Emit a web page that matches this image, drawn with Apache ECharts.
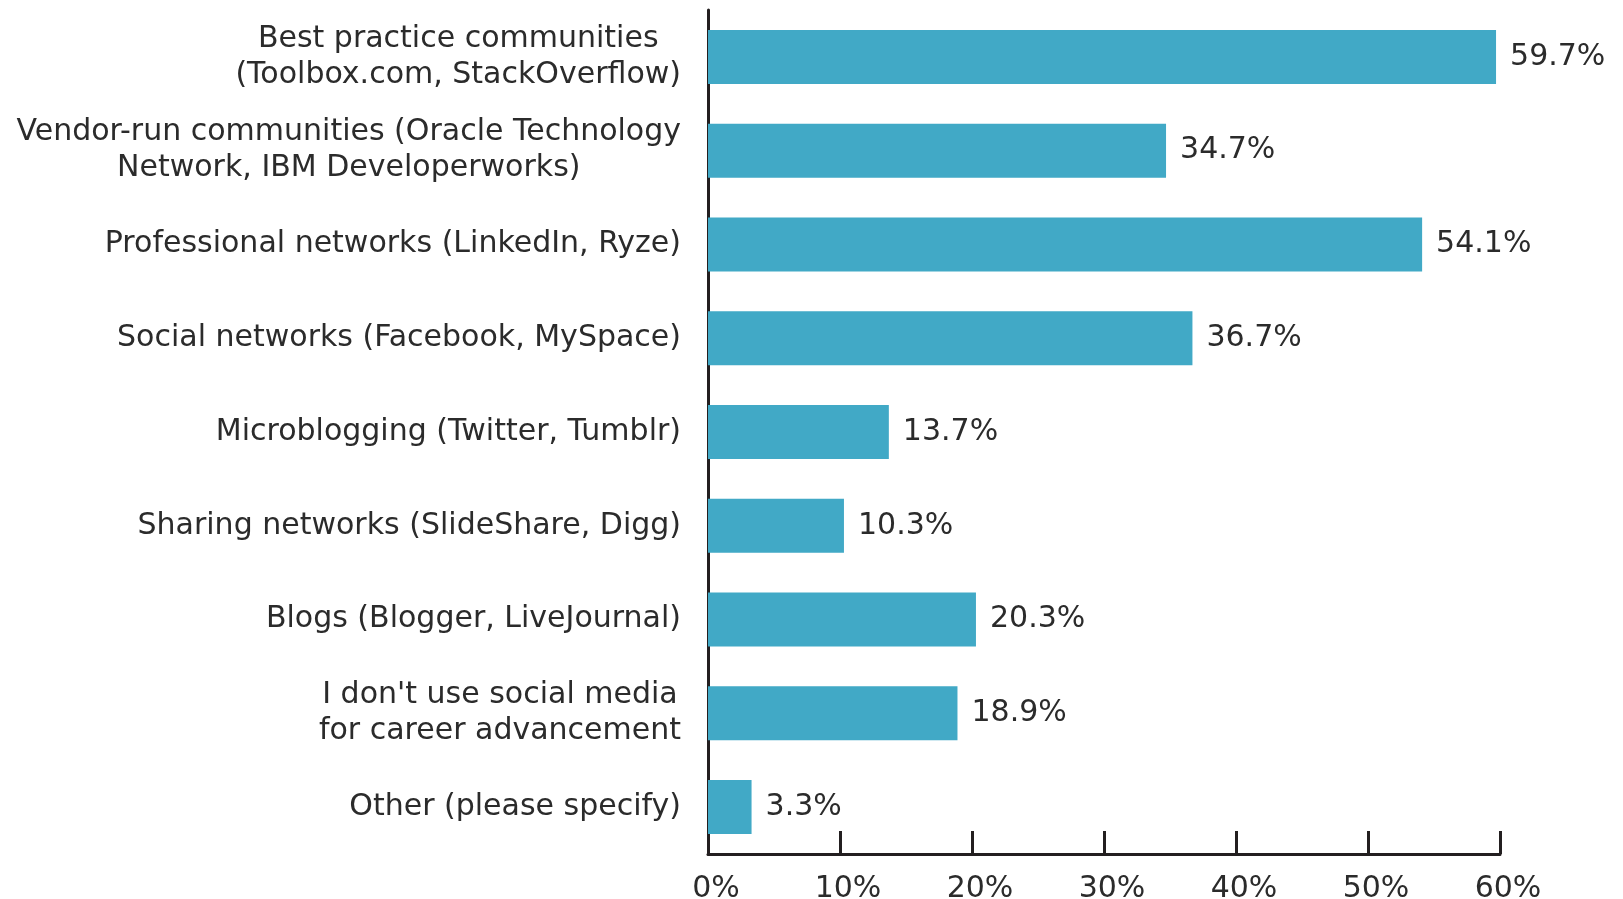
<!DOCTYPE html>
<html>
<head>
<meta charset="utf-8">
<script src="https://cdn.jsdelivr.net/npm/echarts@6/dist/echarts.min.js"></script>
<style>
html,body{margin:0;padding:0;background:#fff;}
#chart{width:1623px;height:899px;}
</style>
</head>
<body>
<div id="chart"></div>
<script>
const categories = [
  'Best practice communities\n(Toolbox.com, StackOverflow)',
  'Vendor-run communities (Oracle Technology\nNetwork, IBM Developerworks)',
  'Professional networks (LinkedIn, Ryze)',
  'Social networks (Facebook, MySpace)',
  'Microblogging (Twitter, Tumblr)',
  'Sharing networks (SlideShare, Digg)',
  'Blogs (Blogger, LiveJournal)',
  "I don't use social media\nfor career advancement",
  'Other (please specify)'
];
const values = [59.7, 34.7, 54.1, 36.7, 13.7, 10.3, 20.3, 18.9, 3.3];
const xTicks = [0, 10, 20, 30, 40, 50, 60];

const FONT = 'DejaVu Sans';
const FS = 30;
const TEXT = '#2b2b2b';
const AXIS = '#231f20';

const chart = echarts.init(document.getElementById('chart'));
chart.setOption({
  animation: false,
  backgroundColor: '#fff',
  grid: { left: 708, right: 123, top: 10, bottom: 45, containLabel: false, outerBoundsMode: 'none' },
  xAxis: {
    type: 'value',
    min: xTicks[0],
    max: xTicks[xTicks.length - 1],
    interval: 10,
    axisLine: { show: true, lineStyle: { color: AXIS, width: 3 } },
    axisTick: { show: true, inside: true, length: 23, lineStyle: { color: AXIS, width: 3 } },
    splitLine: { show: false },
    axisLabel: { formatter: '{value}%', fontFamily: FONT, fontSize: FS, color: TEXT, margin: 20, padding: [0, 0, 0, 16] }
  },
  yAxis: {
    type: 'category',
    inverse: true,
    data: categories,
    axisLine: { show: true, onZero: false, lineStyle: { color: AXIS, width: 3 } },
    axisTick: { show: false },
    axisLabel: {
      align: 'right',
      margin: 27,
      formatter: function (v) {
        return v.split('\n').map(function (s) { return '{c|' + s + '}'; }).join('\n');
      },
      rich: {
        c: { fontFamily: FONT, fontSize: FS, color: TEXT, align: 'center', lineHeight: 36 }
      }
    }
  },
  series: [{
    type: 'bar',
    data: values,
    barWidth: 54,
    itemStyle: { color: '#41a9c6' },
    label: {
      show: true,
      position: 'right',
      distance: 14,
      formatter: '{c}%',
      fontFamily: FONT,
      fontSize: FS,
      color: TEXT
    }
  }]
});
</script>
</body>
</html>
